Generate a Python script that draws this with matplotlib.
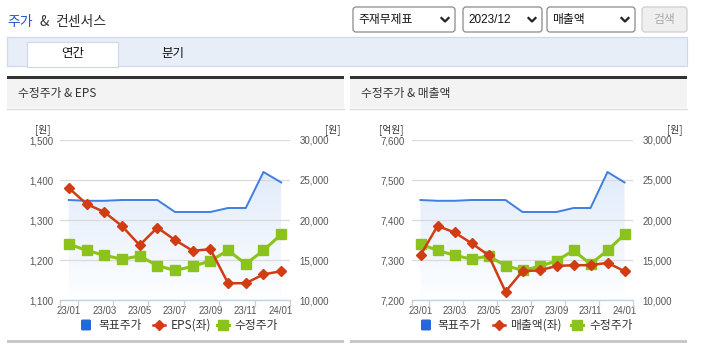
import matplotlib
matplotlib.use('Agg')
import matplotlib.pyplot as plt
import numpy as np
from matplotlib.patches import Rectangle, FancyBboxPatch, Polygon
from matplotlib.lines import Line2D
from matplotlib.ticker import FuncFormatter, FixedLocator
from matplotlib.colors import LinearSegmentedColormap

plt.rcParams['font.family'] = ['Noto Sans CJK KR', 'DejaVu Sans']
NUMFONT = ['Liberation Sans Narrow', 'Liberation Sans', 'Noto Sans CJK KR']

# ---------------- data ----------------
months = ['23/01', '23/02', '23/03', '23/04', '23/05', '23/06', '23/07',
          '23/08', '23/09', '23/10', '23/11', '23/12', '24/01']
target_price = [22500, 22400, 22400, 22500, 22500, 22500, 21000,
                21000, 21000, 21500, 21500, 26000, 24700]
adj_price = [17000, 16200, 15600, 15100, 15500, 14300, 13700,
             14200, 14900, 16200, 14500, 16200, 18200]
eps = [1380, 1340, 1320, 1285, 1237, 1281, 1250, 1223, 1227, 1142, 1142, 1164, 1172]
sales = [7312, 7385, 7369, 7342, 7312, 7221, 7272, 7274, 7285, 7287, 7287, 7293, 7272]

eps_ticks = [1100, 1200, 1300, 1400, 1500]
sales_ticks = [7200, 7300, 7400, 7500, 7600]
price_ticks = [10000, 15000, 20000, 25000, 30000]

W, H = 704, 358
fig = plt.figure(figsize=(W / 100, H / 100), dpi=100)
fig.patch.set_facecolor('white')


def px(x0, y0, x1, y1):
    return [x0 / W, 1 - y1 / H, (x1 - x0) / W, (y1 - y0) / H]


ov = fig.add_axes([0, 0, 1, 1])
ov.set_zorder(-1)
ov.set_xlim(0, W)
ov.set_ylim(H, 0)
ov.axis('off')

BLUE = '#3f7fe0'
RED = '#d13c12'
GREEN = '#8cc21c'

# ---------------- header ----------------
ov.text(7, 22, '주가', color='#2457c9', fontsize=10, va='center', ha='left')
ov.text(39, 22, '&', color='#333333', fontsize=10, va='center', ha='left')
ov.text(55, 22, '컨센서스', color='#333333', fontsize=10, va='center', ha='left')

boxes = [(353, 455, '주재무제표'), (463, 542, '2023/12'), (547, 635, '매출액')]
for bx0, bx1, label in boxes:
    ov.add_patch(FancyBboxPatch((bx0, 7), bx1 - bx0, 25, boxstyle='round,pad=0,rounding_size=3',
                                fc='white', ec='#8a8a8a', lw=0.9))
    fam = NUMFONT if label[0].isdigit() else ['Noto Sans CJK KR']
    ov.text(bx0 + 5, 20, label, fontsize=8.5, va='center', ha='left', color='#111111', family=fam)
    cx = bx1 - 10
    ov.add_line(Line2D([cx - 3.5, cx, cx + 3.5], [18, 21.5, 18], color='#222222', lw=1.6))
ov.add_patch(FancyBboxPatch((642, 7), 45, 25, boxstyle='round,pad=0,rounding_size=3',
                            fc='#efefef', ec='#cfcfcf', lw=0.9))
ov.text(664.5, 19.5, '검색', fontsize=8.5, va='center', ha='center', color='#a8a8a8')

# tab bar
ov.add_patch(Rectangle((7, 37), 680, 29, fc='#e8eef8', ec='#d0d9ea', lw=0.9))
ov.add_patch(Rectangle((27, 42), 91, 25, fc='white', ec='#d0d9ea', lw=0.9, zorder=3))
ov.text(73, 54, '연간', fontsize=9, va='center', ha='center', color='#111111', zorder=4)
ov.text(173, 54, '분기', fontsize=9, va='center', ha='center', color='#111111', zorder=4)

# ---------------- panels ----------------
panels = [(7, 344), (350, 687)]
titles = ['수정주가 & EPS', '수정주가 & 매출액']
for (p0, p1), t in zip(panels, titles):
    ov.add_patch(Rectangle((p0, 76), p1 - p0, 3, fc='#333333', ec='none'))
    ov.add_patch(Rectangle((p0, 79), p1 - p0, 29, fc='#f3f3f3', ec='none'))
    ov.add_line(Line2D([p0, p1], [108.5, 108.5], color='#dddddd', lw=1))
    ov.text(p0 + 11, 94, t, fontsize=8.5, va='center', ha='left', color='#333333')
    ov.add_patch(Rectangle((p0, 340), p1 - p0, 3, fc='#c8c8c8', ec='none'))


def fmt(v, p):
    return f'{int(round(v)):,}'


def chart(x0, x1, lvals, lticks, lunit, lname, panel_right, leg):
    ax = fig.add_axes(px(x0, 140, x1, 300))
    tw = ax.twinx()
    ax.set_zorder(tw.get_zorder() + 1)
    ax.patch.set_visible(False)
    n = len(lvals)
    xs = np.arange(n)

    # right axis (prices)
    tw.set_ylim(price_ticks[0], price_ticks[-1])
    tw.yaxis.set_major_locator(FixedLocator(price_ticks))
    tw.yaxis.set_major_formatter(FuncFormatter(fmt))
    tw.grid(axis='y', color='#dadada', lw=0.9)
    tw.set_axisbelow(True)
    tw.tick_params(axis='y', length=0, pad=7, labelsize=7, labelcolor='#555555')
    for lab in tw.get_yticklabels():
        lab.set_family(NUMFONT)

    poly = Polygon([(0, price_ticks[0])] + list(zip(xs, target_price)) + [(n - 1, price_ticks[0])],
                   closed=True, transform=tw.transData, fc='none', ec='none')
    tw.add_patch(poly)
    cmap = LinearSegmentedColormap.from_list('g', ['#dfeafa', '#fdfeff'])
    grad = np.linspace(0, 1, 256).reshape(-1, 1)
    im = tw.imshow(grad, extent=[-0.5, n - 0.5, price_ticks[0], 27000], origin='upper',
                   cmap=cmap, aspect='auto', zorder=0.3)
    im.set_clip_path(poly)
    tw.plot(xs, target_price, color=BLUE, lw=1.4, zorder=3)
    tw.plot(xs, adj_price, color=GREEN, lw=2.2, marker='s', ms=6.5, zorder=4)
    tw.set_ylim(price_ticks[0], price_ticks[-1])

    # left axis
    ax.plot(xs, lvals, color=RED, lw=1.8, marker='D', ms=4.6, zorder=5)
    ax.set_ylim(lticks[0], lticks[-1])
    ax.yaxis.set_major_locator(FixedLocator(lticks))
    ax.yaxis.set_major_formatter(FuncFormatter(fmt))
    ax.tick_params(axis='y', length=0, pad=5, labelsize=7, labelcolor='#555555')
    for lab in ax.get_yticklabels():
        lab.set_family(NUMFONT)

    ax.set_xlim(-0.5, n - 0.5)
    ax.xaxis.set_major_locator(FixedLocator(list(range(0, n, 2))))
    ax.set_xticklabels([months[i] for i in range(0, n, 2)])
    ax.xaxis.set_minor_locator(FixedLocator([-0.5] + [i + 0.5 for i in range(0, n, 2)]))
    ax.tick_params(axis='x', which='major', length=0, pad=4, labelsize=7, labelcolor='#555555')
    ax.tick_params(axis='x', which='minor', length=5, width=0.9, color='#c3d1e6')
    for lab in ax.get_xticklabels():
        lab.set_family(NUMFONT)
    for a in (ax, tw):
        for s in ('top', 'left', 'right', 'bottom'):
            a.spines[s].set_visible(False)
    ax.spines['bottom'].set_visible(True)
    ax.spines['bottom'].set_color('#c3d1e6')
    ax.spines['bottom'].set_linewidth(1)

    # units
    ov.text(x0 - 9, 130, lunit, fontsize=7, ha='right', va='center', color='#333333')
    ov.text(panel_right - 4, 130, '[원]', fontsize=7, ha='right', va='center', color='#333333')

    # legend
    bx, rx, gx, t1, t2, t3 = leg
    ov.add_patch(FancyBboxPatch((bx, 319.5), 10, 11, boxstyle='round,pad=0,rounding_size=1.5',
                                fc='#2369dc', ec='none'))
    ov.text(t1, 325, '목표주가', fontsize=8.5, va='center', ha='left', color='#333333')
    ov.add_line(Line2D([rx - 6, rx + 6], [325, 325], color=RED, lw=1.8))
    ov.add_line(Line2D([rx], [325], color=RED, marker='D', ms=4.6, lw=0))
    ov.text(t2, 325, lname, fontsize=8.5, va='center', ha='left', color='#333333')
    ov.add_line(Line2D([gx - 6, gx + 6], [325, 325], color=GREEN, lw=2.2))
    ov.add_line(Line2D([gx], [325], color=GREEN, marker='s', ms=6.5, lw=0))
    ov.text(t3, 325, '수정주가', fontsize=8.5, va='center', ha='left', color='#333333')


chart(60, 290, eps, eps_ticks, '[원]', 'EPS(좌)', 344, (81, 159, 223, 98, 171, 234))
chart(412, 633, sales, sales_ticks, '[억원]', '매출액(좌)', 687, (421, 499, 577, 437, 510, 589))

fig.savefig('out.png', dpi=100, facecolor='white')
